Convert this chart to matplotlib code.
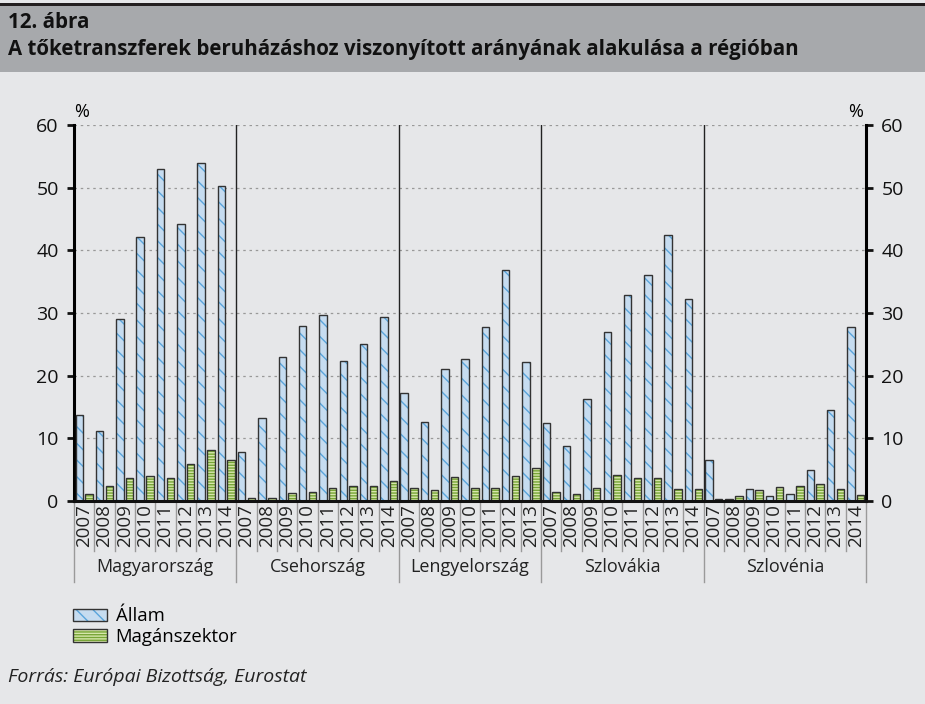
import numpy as np
import matplotlib
matplotlib.use("Agg")
import matplotlib.pyplot as plt
from matplotlib.patches import Patch, Rectangle
from matplotlib.legend_handler import HandlerTuple
import matplotlib.transforms as mtransforms

plt.rcParams['font.family'] = ['Open Sans', 'DejaVu Sans']
plt.rcParams['hatch.linewidth'] = 1.0

countries = ["Magyarország", "Csehország", "Lengyelország", "Szlovákia", "Szlovénia"]
years = {
    "Magyarország": [2007, 2008, 2009, 2010, 2011, 2012, 2013, 2014],
    "Csehország": [2007, 2008, 2009, 2010, 2011, 2012, 2013, 2014],
    "Lengyelország": [2007, 2008, 2009, 2010, 2011, 2012, 2013],
    "Szlovákia": [2007, 2008, 2009, 2010, 2011, 2012, 2013, 2014],
    "Szlovénia": [2007, 2008, 2009, 2010, 2011, 2012, 2013, 2014],
}
allam = {
    "Magyarország": [13.8, 11.1, 29.0, 42.2, 53.0, 44.2, 54.0, 50.2],
    "Csehország": [7.8, 13.2, 23.0, 28.0, 29.7, 22.4, 25.1, 29.3],
    "Lengyelország": [17.3, 12.6, 21.0, 22.6, 27.8, 36.8, 22.2],
    "Szlovákia": [12.4, 8.8, 16.3, 27.0, 32.8, 36.0, 42.5, 32.2],
    "Szlovénia": [6.5, 0.3, 1.9, 0.8, 1.1, 4.9, 14.5, 27.8],
}
magan = {
    "Magyarország": [1.1, 2.4, 3.6, 4.0, 3.6, 5.9, 8.2, 6.5],
    "Csehország": [0.4, 0.4, 1.3, 1.5, 2.0, 2.4, 2.4, 3.2],
    "Lengyelország": [2.0, 1.8, 3.8, 2.0, 2.0, 4.0, 5.3],
    "Szlovákia": [1.5, 1.1, 2.0, 4.2, 3.6, 3.6, 1.9, 1.9],
    "Szlovénia": [0.3, 0.8, 1.7, 2.2, 2.4, 2.7, 1.9, 0.9],
}

bg = "#e6e7e9"
blue_fill = "#c6dcf0"
blue_hatch = "#5aa5dc"
green_fill = "#d6e6ab"
green_hatch = "#77a536"
edge = "#333333"

fig = plt.figure(figsize=(9.25, 7.04), dpi=100, facecolor=bg)

# title band
fig.add_artist(Rectangle((0, 1 - 72 / 704), 1, 66 / 704, transform=fig.transFigure,
                         facecolor="#a7a9ac", edgecolor="none"))
fig.add_artist(Rectangle((0, 1 - 6 / 704), 1, 3 / 704, transform=fig.transFigure,
                         facecolor="#231f20", edgecolor="none"))
fig.text(8 / 925, 1 - 22 / 704, "12. ábra", fontsize=14.8, fontweight="bold",
         va="center", ha="left", color="#111111")
fig.text(8 / 925, 1 - 49 / 704,
         "A tőketranszferek beruházáshoz viszonyított arányának alakulása a régióban",
         fontsize=14.8, fontweight="bold", va="center", ha="left", color="#111111")

ax = fig.add_axes([74 / 925, 1 - 501 / 704, (866 - 74) / 925, 376 / 704])
ax.set_facecolor(bg)

# flatten the groups into one category axis
labels = []
state_vals = []
priv_vals = []
bounds = [0]
for c in countries:
    labels += [str(y) for y in years[c]]
    state_vals += allam[c]
    priv_vals += magan[c]
    bounds.append(bounds[-1] + len(years[c]))
n = len(labels)
x = np.arange(n) + 0.5
w = 0.37

ax.bar(x - 0.24, state_vals, w, color=blue_fill, edgecolor=blue_hatch, hatch="\\\\",
       linewidth=0, zorder=3)
ax.bar(x - 0.24, state_vals, w, color="none", edgecolor=edge, linewidth=1.0, zorder=4)
ax.bar(x + 0.24, priv_vals, w, color=green_fill, edgecolor=green_hatch, hatch="------",
       linewidth=0, zorder=3)
ax.bar(x + 0.24, priv_vals, w, color="none", edgecolor=edge, linewidth=1.0, zorder=4)

ax.set_xlim(0, n)
ax.set_ylim(0, 60)
ax.set_yticks(range(0, 61, 10))
for yv in range(10, 61, 10):
    ax.axhline(yv, color="#999999", linestyle=(0, (2, 3)), linewidth=0.9, zorder=1)

for b in bounds[1:-1]:
    ax.axvline(b, color="#222222", linewidth=1.0, zorder=2)

for s in ["top", "bottom"]:
    ax.spines[s].set_visible(False)
ax.spines["left"].set_linewidth(2.2)
ax.spines["right"].set_linewidth(2.2)
ax.axhline(0, color="#111111", linewidth=2.2, zorder=5, clip_on=False)

ax.tick_params(axis="y", which="both", left=True, right=True, labelleft=True,
               labelright=True, direction="out", length=5, width=2.0,
               labelsize=14, pad=6, colors="#111111")
ax.set_xticks([])

trans = mtransforms.blended_transform_factory(ax.transData, ax.transAxes)
for i, lab in enumerate(labels):
    ax.text(x[i], -0.009, lab, rotation=90, ha="center", va="top", fontsize=13.5,
            transform=trans, color="#222222")
for b in range(n + 1):
    if b in bounds:
        ax.plot([b, b], [0, -0.215], color="#9a9a9a", linewidth=1.0,
                transform=trans, clip_on=False)
    else:
        ax.plot([b, b], [0, -0.133], color="#9a9a9a", linewidth=1.0,
                transform=trans, clip_on=False)
for i, c in enumerate(countries):
    ax.text((bounds[i] + bounds[i + 1]) / 2, -0.175, c, ha="center", va="center",
            fontsize=13, transform=trans, color="#222222")

ax.text(0.35, 1.035, "%", transform=trans, fontsize=13, ha="center", va="center")
ax.text(n - 0.5, 1.035, "%", transform=trans, fontsize=13, ha="center", va="center")

h_state = (Patch(facecolor=blue_fill, edgecolor=blue_hatch, hatch="\\\\", linewidth=0),
           Patch(facecolor="none", edgecolor=edge, linewidth=1.0))
h_priv = (Patch(facecolor=green_fill, edgecolor=green_hatch, hatch="------", linewidth=0),
          Patch(facecolor="none", edgecolor=edge, linewidth=1.0))
fig.legend([h_state, h_priv], ["Állam", "Magánszektor"],
           handler_map={tuple: HandlerTuple(ndivide=1)},
           loc="upper left", bbox_to_anchor=(64 / 925, 1 - 598 / 704),
           frameon=False, fontsize=13.3, handlelength=1.85, handleheight=0.65,
           handletextpad=0.45, labelspacing=0.15, borderpad=0)

fig.text(8 / 925, 1 - 677 / 704, "Forrás: Európai Bizottság, Eurostat",
         fontsize=14, style="italic", ha="left", va="center", color="#222222")

fig.savefig("out.png", dpi=100, facecolor=bg)
